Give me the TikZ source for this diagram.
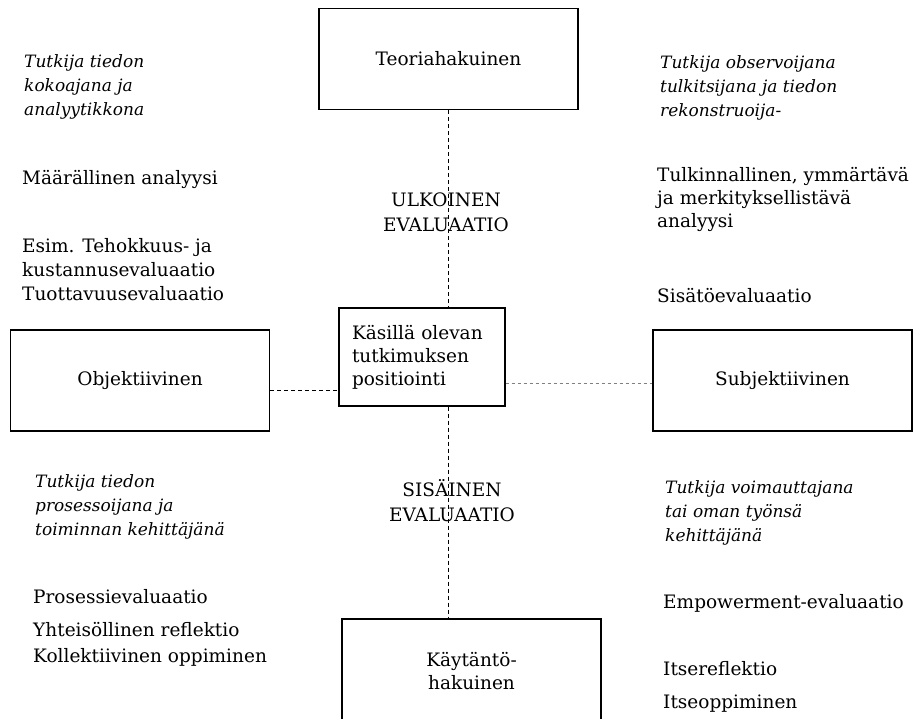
\documentclass[tikz,border=0pt]{standalone}
\usepackage{fontspec}
\setmainfont{DejaVu Serif}
\usetikzlibrary{calc}

\begin{document}
\begin{tikzpicture}[
  x=1pt, y=-1pt,
  box/.style={draw, line width=1.1pt, minimum width=259pt, minimum height=101pt, inner sep=0pt, font=\fontsize{18.5}{23}\selectfont, align=center},
  txt/.style={anchor=base west, inner sep=0pt, align=left, font=\fontsize{18.5}{24}\selectfont},
  itxt/.style={anchor=base west, inner sep=0pt, align=left, font=\fontsize{17}{24}\selectfont\itshape},
  axisline/.style={line width=0.9pt, dash pattern=on 4pt off 3pt},
]
  \useasboundingbox (0,0) rectangle (918,718);
  \clip (0,0) rectangle (918,718);

  % Boxes
  \node[box] (teo) at (448.5,59) {Teoriahakuinen};
  \node[box] (obj) at (140,380.5) {Objektiivinen};
  \node[box] (subj) at (782.5,380.5) {Subjektiivinen};
  \node[box, minimum height=104pt] (kay) at (471.5,671) {Käytäntö-\\hakuinen};
  \node[draw, line width=1.1pt, minimum width=166pt, minimum height=98pt, text width=140pt, inner xsep=13pt, align=left, font=\fontsize{18.5}{23}\selectfont] (pos) at (422,357) {Käsillä olevan\\tutkimuksen\\positiointi};

  % Axis labels
  \node[align=center, font=\fontsize{18.5}{25}\selectfont] (ulk) at (446,212) {ULKOINEN\\EVALUAATIO};
  \node[align=center, font=\fontsize{18.5}{25}\selectfont] (sis) at (452,501) {SISÄINEN\\EVALUAATIO};

  % Axis lines
  \draw[axisline] (teo.south) -- (teo.south |- pos.north);
  \draw[axisline] (pos.south -| teo.south) -- (kay.north -| teo.south);
  \draw[axisline] ([yshift=-9.5pt]obj.east) -- ([yshift=-9.5pt]obj.east -| pos.west);
  \draw[axisline, gray, dash pattern=on 3pt off 3pt] ([yshift=-2.5pt]subj.west -| pos.east) -- ([yshift=-2.5pt]subj.west);

  % Quadrant texts (anchored at the baseline of the last line)
  \node[itxt] (tl1) at (24,115) {Tutkija tiedon\\kokoajana ja\\analyytikkona};
  \node[txt] (tl2) at (22,184) {Määrällinen analyysi};
  \node[txt] (tl3) at (22,300) {Esim. Tehokkuus- ja\\kustannusevaluaatio\\Tuottavuusevaluaatio};
  \node[itxt] (tr1) at (660,116) {Tutkija observoijana\\tulkitsijana ja tiedon\\rekonstruoija-};
  \node[txt, font=\fontsize{18.5}{23}\selectfont] (tr2) at (657,227) {Tulkinnallinen, ymmärtävä\\ja merkityksellistävä\\analyysi};
  \node[txt] (tr3) at (657,302) {Sisätöevaluaatio};
  \node[itxt] (bl1) at (35,535) {Tutkija tiedon\\prosessoijana ja\\toiminnan kehittäjänä};
  \node[txt] (bl2) at (33,603) {Prosessievaluaatio};
  \node[txt, font=\fontsize{18.5}{26}\selectfont] (bl3) at (33,662) {Yhteisöllinen reflektio\\Kollektiivinen oppiminen};
  \node[itxt] (br1) at (665,541) {Tutkija voimauttajana\\tai oman työnsä\\kehittäjänä};
  \node[txt] (br2) at (663,608) {Empowerment-evaluaatio};
  \node[txt] (br3) at (663,675) {Itsereflektio};
  \node[txt] (br4) at (663,708) {Itseoppiminen};
\end{tikzpicture}
\end{document}
